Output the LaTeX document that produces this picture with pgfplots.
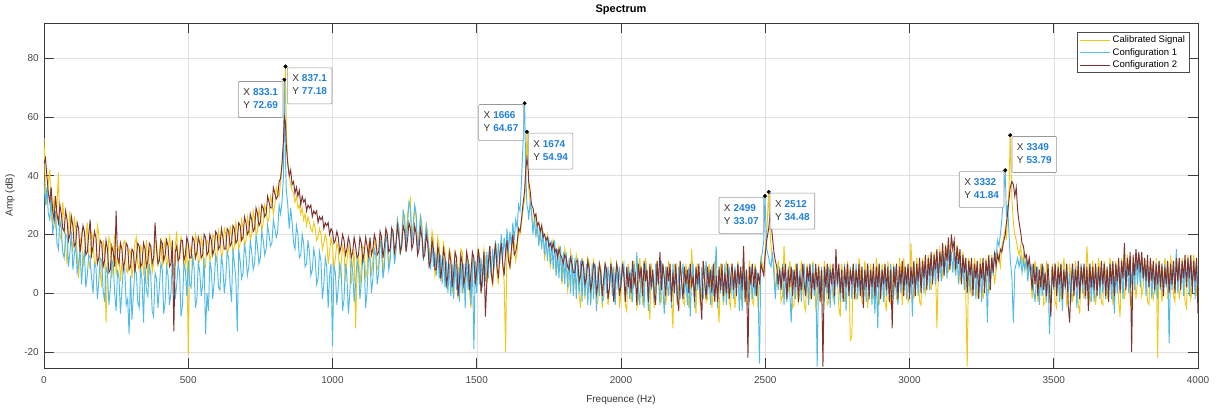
\documentclass[border=0pt]{standalone}
\usepackage{fontspec}
\setmainfont{Liberation Sans}
\usepackage{pgfplots}
\usepackage{pgfplotstable}
\pgfplotsset{compat=1.18}

\definecolor{calyel}{RGB}{242,200,20}
\definecolor{cfgblue}{RGB}{80,187,235}
\definecolor{cfgbrown}{RGB}{126,50,50}
\definecolor{tipblue}{RGB}{33,128,220}
\definecolor{axgray}{RGB}{60,60,60}

% spectrum, 5 Hz steps plus the marked peaks
% columns: frequency, calibrated signal, configuration 1, configuration 2
\pgfplotstableread{
x cal c1 c2
0 53 38 44
5 35 30 46
10 30 36 40
15 38 27 34
20 42 25 31
25 26 33 36
30 24 20 28
35 33 24 25
40 22 28 33
45 30 17 27
50 41 15 24
55 20 25 30
60 18 22 27
65 31 14 22
70 25 12 21
75 16 20 28
80 10 19 25
85 22 9 18
90 28 14 20
95 18 21 26
100 14 8 23
105 26 13 16
110 22 17 17
115 13 7 24
120 5 10 22
125 17 15 14
130 20 3 18
135 9 11 23
140 12 14 21
145 19 2 13
150 24 6 14
155 11 13 20
160 8 12 25
165 21 5 13
170 18 0 16
175 9 10 21
180 11 9 19
185 23 -2 10
190 20 4 12
195 7 12 18
200 2 11 17
205 18 1 9
210 15 -3 11
215 -10 9 18
220 9 7 15
225 19 -4 7
230 17 2 8
235 5 11 16
240 12 10 14
245 20 0 9
250 6 -6 28
255 14 8 12
260 16 5 10
265 4 -7 17
270 10 1 15
275 17 9 8
280 18 8 11
285 8 -4 17
290 7 -2 16
295 15 -14 8
300 14 6 9
305 5 -9 15
310 11 0 14
315 17 8 7
320 19 7 12
325 10 -3 17
330 8 -5 16
335 16 9 9
340 15 4 10
345 6 -10 17
350 12 9 15
355 18 1 9
360 3 -1 11
365 14 10 17
370 16 6 16
375 7 -6 10
380 10 -8 12
385 18 7 24
390 17 5 15
395 9 -5 10
400 13 2 11
405 19 10 18
410 9 8 17
415 15 -7 11
420 18 -3 13
425 8 9 18
430 12 6 16
435 20 -4 9
440 15 0 10
445 7 11 18
450 6 9 -13
455 16 -2 14
460 21 3 16
465 10 10 11
470 14 7 12
475 19 -8 18
480 17 -4 18
485 8 10 11
490 10 8 13
495 18 -1 19
500 -21 11 17
505 13 3 12
510 16 2 12
515 9 12 19
520 12 9 18
525 20 -5 12
530 18 -2 14
535 10 11 19
540 11 7 17
545 19 -1 12
550 16 3 13
555 8 12 20
560 9 -14 19
565 18 0 13
570 17 -6 14
575 11 11 20
580 13 8 18
585 20 -2 13
590 19 4 15
595 10 13 21
600 12 11 20
605 21 2 15
610 18 1 16
615 12 13 22
620 14 9 19
625 22 0 15
630 20 5 15
635 13 14 22
640 15 12 21
645 23 3 16
650 19 -3 17
655 14 15 23
660 16 10 22
665 24 5 17
670 21 -13 18
675 15 15 24
680 17 11 23
685 25 5 18
690 22 7 19
695 16 17 26
700 18 13 24
705 26 6 20
710 23 9 21
715 18 18 27
720 20 14 25
725 28 8 21
730 25 10 22
735 20 20 29
740 21 16 27
745 29 10 23
750 26 12 24
755 21 21 30
760 24 18 29
765 30 13 26
770 28 15 27
775 24 23 33
780 26 20 31
785 33 16 29
790 31 17 29
795 27 25 36
800 30 22 34
805 36 19 32
810 34 21 33
815 33 30 38
820 38 27 39
825 43 31 44
830 50 40 52
833.1 60 72.69 60
837.1 77.18 45 58
840 55 35 50
845 45 30 44
850 40 22 40
855 37 29 42
860 35 24 37
865 34 17 38
870 31 15 34
875 33 23 36
880 29 20 33
885 30 12 35
890 27 13 30
895 29 20 33
900 25 17 31
905 27 9 32
910 23 10 28
915 26 18 30
920 24 14 29
925 22 6 30
930 21 8 26
935 24 15 28
940 22 12 27
945 18 3 28
950 19 5 24
955 22 14 26
960 20 11 25
965 15 -2 26
970 17 3 22
975 20 12 24
980 18 9 23
985 10 -5 24
990 14 6 20
995 19 10 22
1000 16 -18 21
1005 8 9 17
1010 12 7 18
1015 17 -4 21
1020 15 2 19
1025 5 10 14
1030 10 8 16
1035 16 -6 20
1040 14 -2 18
1045 4 10 13
1050 11 6 15
1055 16 -7 19
1060 13 0 17
1065 3 11 12
1070 9 8 14
1075 15 -3 19
1080 -12 3 16
1085 7 11 12
1090 14 9 13
1095 2 -2 19
1100 10 4 17
1105 16 12 11
1110 15 10 14
1115 5 -5 19
1120 8 1 16
1125 17 13 12
1130 13 11 19
1135 6 0 13
1140 11 5 15
1145 18 15 20
1150 16 13 18
1155 8 3 13
1160 9 7 14
1165 19 18 21
1170 17 15 19
1175 7 5 12
1180 12 9 16
1185 21 20 22
1190 18 17 20
1195 9 8 14
1200 13 11 15
1205 22 22 22
1210 20 19 21
1215 11 10 14
1220 15 14 17
1225 25 25 23
1230 22 22 19
1235 13 13 14
1240 17 18 16
1245 27 28 23
1250 24 26 21
1255 18 16 14
1260 27 23 18
1265 30 31 24
1270 32 29 22
1275 18 17 15
1280 22 24 17
1285 29 30 23
1290 26 27 20
1295 15 13 13
1300 19 20 15
1305 27 26 22
1310 23 22 19
1315 12 11 12
1320 16 17 13
1325 24 23 20
1330 20 19 17
1335 9 15 9
1340 13 8 11
1345 21 17 18
1350 18 9 15
1355 6 14 8
1360 9 6 8
1365 19 15 16
1370 16 5 13
1375 4 13 5
1380 11 3 9
1385 17 12 15
1390 14 2 12
1395 2 11 3
1400 7 0 6
1405 15 10 14
1410 13 -1 11
1415 0 10 2
1420 5 -2 7
1425 14 11 14
1430 12 1 12
1435 -2 9 -1
1440 8 -3 4
1445 15 11 13
1450 14 0 10
1455 1 10 3
1460 3 -5 6
1465 13 12 14
1470 11 1 11
1475 0 10 1
1480 -5 -4 7
1485 13 12 14
1490 10 -19 12
1495 2 11 3
1500 6 0 8
1505 15 13 15
1510 13 3 11
1515 1 12 0
1520 4 2 6
1525 15 14 14
1530 12 4 -8
1535 3 14 4
1540 8 5 10
1545 16 16 16
1550 10 6 7
1555 2 15 3
1560 11 8 12
1565 17 18 17
1570 7 9 9
1575 3 17 5
1580 14 10 13
1585 18 20 17
1590 9 12 10
1595 4 19 6
1600 -20 13 14
1605 19 22 18
1610 15 14 11
1615 8 21 9
1620 12 16 15
1625 20 24 20
1630 17 18 13
1635 11 25 14
1640 14 22 17
1645 22 30 22
1650 20 28 21
1655 24 38 25
1660 28 50 30
1666 32 64.67 35
1670 40 40 42
1674 54.94 30 46
1678 42 28 43
1680 36 25 38
1685 31 31 35
1690 28 27 30
1695 22 20 29
1700 24 26 26
1705 26 19 27
1710 21 24 23
1715 17 16 24
1720 18 22 21
1725 23 15 23
1730 20 21 19
1735 12 13 20
1740 15 19 18
1745 20 11 19
1750 17 19 16
1755 9 10 17
1760 12 18 15
1765 18 8 17
1770 16 18 14
1775 6 6 15
1780 10 15 12
1785 16 5 15
1790 14 16 13
1795 3 4 12
1800 7 14 10
1805 15 3 13
1810 12 14 12
1815 1 2 9
1820 4 12 8
1825 14 0 12
1830 11 13 10
1835 0 -1 7
1840 6 12 7
1845 13 -2 11
1850 10 12 11
1855 -1 0 4
1860 -5 11 6
1865 12 -3 11
1870 9 11 9
1875 -2 -1 3
1880 5 10 5
1885 12 -4 11
1890 10 9 8
1895 -3 -4 1
1900 3 10 4
1905 11 -2 10
1910 8 10 9
1915 -4 -6 0
1920 -3 9 3
1925 10 -1 10
1930 9 8 7
1935 -5 -3 -1
1940 4 -2 5
1945 10 10 10
1950 7 0 8
1955 -4 9 -2
1960 1 3 2
1965 11 10 10
1970 8 -1 6
1975 -3 9 -3
1980 3 -4 4
1985 10 10 10
1990 7 1 7
1995 -5 9 -1
2000 0 2 3
2005 11 7 10
2010 6 10 6
2015 -4 -1 -3
2020 -6 1 9
2025 10 9 2
2030 7 -2 7
2035 -3 8 0
2040 2 -3 11
2045 11 10 3
2050 6 2 6
2055 -5 14 -4
2060 -2 2 10
2065 12 -4 5
2070 5 8 9
2075 -4 3 -1
2080 1 -5 11
2085 12 10 4
2090 7 5 8
2095 -2 -6 -3
2100 -9 9 10
2105 10 1 2
2110 6 7 8
2115 -5 -3 0
2120 2 10 -4
2125 11 4 11
2130 5 6 3
2135 -3 -4 14
2140 -3 11 1
2145 10 2 10
2150 6 -7 5
2155 -4 9 -1
2160 0 4 9
2165 11 -1 4
2170 5 7 10
2175 -2 -5 -3
2180 -12 10 7
2185 10 2 0
2190 6 6 10
2195 -4 -3 -1
2200 2 9 -6
2205 11 -2 11
2210 5 5 4
2215 -3 10 -2
2220 -4 0 9
2225 10 6 3
2230 6 -4 8
2235 -5 9 0
2240 1 -8 10
2245 15 5 2
2250 5 10 6
2255 -2 -5 -3
2260 -7 8 9
2265 10 1 3
2270 4 6 10
2275 -4 -3 -1
2280 0 9 -9
2285 11 -2 11
2290 6 5 4
2295 -3 11 -2
2300 -2 0 9
2305 10 7 2
2310 5 -4 8
2315 -5 9 0
2320 1 -1 10
2325 11 6 -3
2330 4 16 6
2335 -2 -5 -3
2340 -10 8 9
2345 10 0 1
2350 5 6 10
2355 -4 -3 -1
2360 2 10 7
2365 11 -4 0
2370 6 4 10
2375 -3 9 -2
2380 -5 0 5
2385 10 6 10
2390 4 -2 1
2395 -5 9 8
2400 1 2 -1
2405 11 10 10
2410 5 -6 3
2415 -2 7 9
2420 -3 -6 1
2425 10 9 16
2430 6 1 -3
2435 -4 8 8
2440 0 1 -22
2445 11 -3 9
2450 5 9 3
2455 -3 -2 10
2460 -4 6 2
2465 10 -1 9
2470 6 8 -1
2475 -5 2 7
2480 3 -24 3
2485 12 11 10
2490 10 14 8
2495 6 18 6
2499 14 33.07 12
2505 20 15 18
2512 34.48 12 22
2516 22 10 26
2520 16 9 24
2525 12 14 19
2530 10 6 14
2535 2 -2 11
2540 4 7 9
2545 11 1 3
2550 6 9 8
2555 -3 2 1
2560 -1 10 9
2565 16 -4 4
2570 5 7 10
2575 -2 -3 -2
2580 1 9 8
2585 11 0 2
2590 6 -10 9
2595 -5 8 -1
2600 -4 4 8
2605 10 -2 2
2610 5 10 10
2615 -3 2 -3
2620 0 8 6
2625 11 -3 1
2630 6 5 10
2635 -4 10 3
2640 -6 0 -1
2645 10 7 9
2650 5 -4 4
2655 -2 9 10
2660 1 3 -2
2665 11 10 7
2670 6 -1 1
2675 -5 6 10
2680 -2 -25 2
2685 10 8 9
2690 5 1 -3
2695 -3 9 8
2700 0 1 -25
2705 11 -2 9
2710 6 8 2
2715 -4 0 10
2720 -3 9 -2
2725 10 -5 8
2730 5 7 3
2735 -2 1 10
2740 1 -4 -1
2745 11 10 15
2750 6 2 3
2755 -5 8 10
2760 -8 -3 0
2765 10 6 8
2770 5 0 -3
2775 -3 10 9
2780 2 -6 2
2785 11 7 10
2790 6 1 -1
2795 -16 9 8
2800 -15 -2 3
2805 10 8 10
2810 5 2 -2
2815 -2 10 8
2820 0 -2 2
2825 12 6 10
2830 7 -1 -1
2835 -3 9 9
2840 -4 0 -5
2845 11 8 8
2850 6 -3 2
2855 -5 10 10
2860 1 1 -2
2865 10 7 8
2870 5 -4 2
2875 -2 9 10
2880 -2 -7 -1
2885 12 6 9
2890 7 -12 2
2895 -4 10 10
2900 2 1 -2
2905 10 8 8
2910 5 -3 3
2915 -3 9 10
2920 -6 -1 1
2925 11 7 9
2930 6 0 -3
2935 -4 10 8
2940 1 2 -12
2945 10 -2 9
2950 5 9 2
2955 -2 1 10
2960 -3 -4 -2
2965 12 8 9
2970 7 0 3
2975 -4 10 11
2980 12 1 -1
2985 5 8 9
2990 4 -2 3
2995 -3 9 10
3000 -1 0 -2
3005 17 8 9
3010 6 -8 3
3015 -2 10 11
3020 2 1 -1
3025 12 8 10
3030 7 -1 4
3035 -3 10 12
3040 -4 2 0
3045 12 9 11
3050 8 0 5
3055 0 11 13
3060 3 3 1
3065 13 10 12
3070 9 1 6
3075 1 12 14
3080 5 4 3
3085 14 11 13
3090 10 3 8
3095 -12 13 15
3100 7 5 4
3105 15 12 14
3110 12 4 9
3115 5 14 17
3120 9 6 6
3125 16 13 16
3130 14 5 11
3135 7 16 19
3140 11 8 8
3145 18 14 20
3150 16 7 15
3155 8 15 18
3160 10 6 8
3165 16 12 16
3170 13 3 10
3175 4 13 15
3180 5 5 3
3185 14 10 13
3190 10 1 7
3195 1 11 12
3200 -25 4 0
3205 12 9 11
3210 9 0 6
3215 0 10 12
3220 3 3 -1
3225 12 9 10
3230 8 -2 5
3235 -1 10 11
3240 1 2 -2
3245 12 8 10
3250 7 -3 5
3255 -2 10 12
3260 2 3 0
3265 12 9 11
3270 8 -10 6
3275 0 11 13
3280 4 4 1
3285 13 12 12
3290 9 6 7
3295 3 14 14
3300 8 12 9
3305 14 18 13
3310 12 16 11
3315 9 20 15
3320 16 25 14
3325 18 32 17
3332 22 41.84 20
3336 18 26 24
3340 28 30 27
3345 35 20 32
3349 53.79 12 36
3355 32 5 38
3360 24 -10 37
3365 20 8 33
3370 18 10 36
3375 15 12 28
3380 13 9 24
3385 16 12 21
3390 10 7 17
3395 13 11 16
3400 8 8 12
3405 12 12 13
3410 6 4 9
3415 11 10 12
3420 7 6 8
3425 -2 10 1
3430 3 1 10
3435 11 -3 3
3440 7 5 9
3445 -3 9 -1
3450 1 -4 8
3455 10 6 2
3460 6 -1 10
3465 -4 9 1
3470 -3 1 7
3475 11 -2 -1
3480 5 8 10
3485 -2 -14 2
3490 1 -2 -8
3495 10 9 9
3500 6 1 2
3505 -3 10 10
3510 -5 0 -1
3515 11 7 9
3520 5 -3 3
3525 -2 10 10
3530 0 -6 -2
3535 12 8 8
3540 6 1 2
3545 -4 9 10
3550 -2 0 -4
3555 10 7 -10
3560 5 -3 3
3565 -3 10 10
3570 1 2 -1
3575 11 9 8
3580 6 -5 2
3585 -4 8 11
3590 -7 0 -2
3595 10 10 9
3600 5 0 3
3605 -2 9 10
3610 2 -2 -1
3615 16 8 9
3620 6 1 -6
3625 -3 10 10
3630 -1 -3 2
3635 11 7 9
3640 5 -3 1
3645 -4 10 10
3650 1 1 -1
3655 12 8 9
3660 7 -2 2
3665 -3 9 11
3670 -4 0 3
3675 11 10 10
3680 6 -2 -1
3685 -2 8 9
3690 2 1 -3
3695 12 10 10
3700 7 -2 3
3705 -4 9 11
3710 0 -7 -1
3715 11 8 10
3720 6 0 4
3725 -3 10 12
3730 -8 1 0
3735 12 9 11
3740 7 -2 5
3745 -2 11 17
3750 3 2 1
3755 13 10 12
3760 8 0 6
3765 -3 11 14
3770 -6 3 -20
3775 12 10 13
3780 7 1 6
3785 -2 12 15
3790 4 3 8
3795 13 11 14
3800 9 2 7
3805 -1 12 14
3810 2 4 5
3815 12 10 12
3820 8 -1 4
3825 -3 10 13
3830 -4 2 2
3835 11 9 12
3840 7 -2 4
3845 -2 10 11
3850 1 0 1
3855 12 9 10
3860 -22 -2 3
3865 11 10 11
3870 6 1 2
3875 -3 9 10
3880 2 -1 -1
3885 12 10 9
3890 8 2 3
3895 -2 10 11
3900 3 -17 0
3905 12 9 10
3910 9 1 3
3915 -1 11 11
3920 -3 2 0
3925 13 15 12
3930 8 0 4
3935 -2 11 12
3940 2 3 1
3945 12 10 11
3950 7 -1 5
3955 -3 11 13
3960 -5 4 2
3965 13 10 12
3970 8 -1 5
3975 -2 12 13
3980 1 3 0
3985 13 10 11
3990 9 -2 4
3995 -1 11 12
4000 3 -1 -7
}\spec

% marked maxima
\pgfplotstableread{
x y
833.1 72.69
837.1 77.18
1666 64.67
1674 54.94
2499 33.07
2512 34.48
3332 41.84
3349 53.79
}\tips

\newcommand{\tip}[2]{\begin{tabular}{@{}l@{\hspace{3pt}}l@{}}X & \textcolor{tipblue}{\bfseries #1}\\ Y & \textcolor{tipblue}{\bfseries #2}\end{tabular}}

\begin{document}
\begin{tikzpicture}
\useasboundingbox (-44pt,-39pt) rectangle (1174pt,368pt);
\begin{axis}[
    scale only axis,
    width=1154pt,
    height=345pt,
    xmin=0, xmax=4000,
    ymin=-25.5, ymax=92,
    xtick={0,500,...,4000},
    ytick={-20,0,...,80},
    tick align=inside,
    major tick length=10pt,
    axis line style={axgray, line width=0.6pt},
    tick style={axgray, line width=0.6pt},
    grid=major,
    grid style={black!12, line width=0.5pt},
    font=\fontsize{10}{12}\selectfont,
    ticklabel style={text=black!72},
    /pgf/number format/assume math mode=true,
    /pgf/number format/1000 sep={},
    xticklabel style={yshift=-5pt},
    yticklabel style={xshift=-1.7pt},
    title={Spectrum},
    title style={at={(0.5,1)}, anchor=base, yshift=4.5pt,
        font=\bfseries\fontsize{11}{12}\selectfont},
    xlabel={Frequence (Hz)},
    xlabel style={at={(axis description cs:0.5,0)}, anchor=base,
        yshift=-34pt, text=black!80},
    ylabel={Amp (dB)},
    ylabel style={at={(axis description cs:-0.0295,0.5)}, anchor=center,
        text=black!80},
    legend cell align=left,
    legend style={at={(0.9925,0.973)}, anchor=north east,
        draw=black!70, line width=0.5pt, fill=white,
        font=\fontsize{9.5}{11}\selectfont,
        inner xsep=2pt, inner ysep=1.5pt},
    legend image code/.code={\draw[#1, line width=1pt] (0pt,0pt) -- (30pt,0pt);},
    clip=true,
]
\addplot[calyel, line width=0.95pt] table[x=x, y=cal] {\spec};
\addplot[cfgblue, line width=0.95pt] table[x=x, y=c1] {\spec};
\addplot[cfgbrown, line width=0.95pt] table[x=x, y=c2] {\spec};
\legend{Calibrated Signal, Configuration 1, Configuration 2}

\addplot[only marks, mark=*, mark size=1.8pt, black, forget plot] table[x=x, y=y] {\tips};

\begin{scope}[every node/.style={draw=black!40, fill=white, fill opacity=0.95,
    text opacity=1, rounded corners=1pt, inner xsep=5pt, inner ysep=5pt,
    font=\fontsize{10}{13}\selectfont, text=black!80, line width=0.6pt}]
\node[anchor=north east] at ([xshift=-1pt,yshift=-1.5pt]axis cs:833.1,72.69) {\tip{833.1}{72.69}};
\node[anchor=north west] at ([xshift=1.5pt,yshift=-1pt]axis cs:837.1,77.18) {\tip{837.1}{77.18}};
\node[anchor=north east] at ([xshift=-1pt,yshift=-1pt]axis cs:1666,64.67) {\tip{1666}{64.67}};
\node[anchor=north west] at ([xshift=1pt,yshift=-1pt]axis cs:1674,54.94) {\tip{1674}{54.94}};
\node[anchor=north east] at ([xshift=-1pt,yshift=-1pt]axis cs:2499,33.07) {\tip{2499}{33.07}};
\node[anchor=north west] at ([xshift=1pt,yshift=-1pt]axis cs:2512,34.48) {\tip{2512}{34.48}};
\node[anchor=north east] at ([xshift=-1pt,yshift=-1pt]axis cs:3332,41.84) {\tip{3332}{41.84}};
\node[anchor=north west] at ([xshift=1.5pt,yshift=-1pt]axis cs:3349,53.79) {\tip{3349}{53.79}};
\end{scope}
\end{axis}
\end{tikzpicture}
\end{document}
